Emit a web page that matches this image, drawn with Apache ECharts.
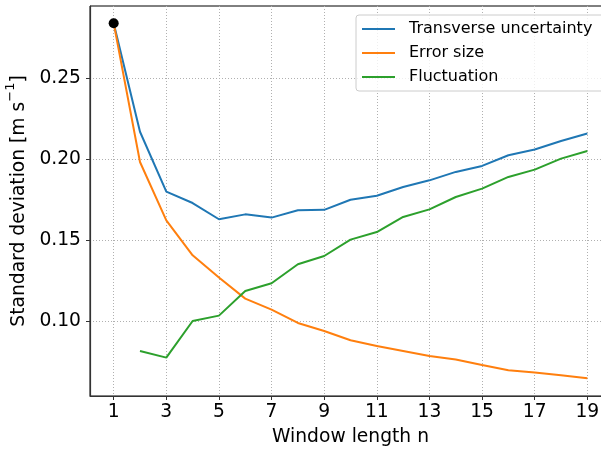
<!DOCTYPE html>
<html><head><meta charset="utf-8">
<script src="https://cdn.jsdelivr.net/npm/echarts@6/dist/echarts.min.js"></script>
<style>html,body{margin:0;padding:0;background:#fff}#c{width:601px;height:449px}</style>
</head><body><div id="c"></div>
<script>
const windowLengths = [1,2,3,4,5,6,7,8,9,10,11,12,13,14,15,16,17,18,19];
const transverse = [0.284,0.217,0.180,0.173,0.163,0.166,0.164,0.1685,0.1688,0.175,0.1775,0.1829,0.187,0.1922,0.1959,0.2025,0.206,0.2113,0.2159];
const errorSize = [0.284,0.1983,0.1623,0.1407,0.127,0.114,0.1072,0.099,0.094,0.0883,0.0848,0.0817,0.0786,0.0764,0.073,0.0698,0.0684,0.0667,0.0648];
const fluctuation = [null,0.0817,0.0776,0.1002,0.1035,0.1187,0.1235,0.1352,0.1403,0.1504,0.1551,0.1644,0.1691,0.1767,0.1819,0.1891,0.1936,0.2004,0.2051];
const highlightPoint = [1, 0.284];
const xTicks = [1,3,5,7,9,11,13,15,17,19];
const yTicks = [0.10,0.15,0.20,0.25];
const seriesNames = ['Transverse uncertainty','Error size','Fluctuation'];
const colors = ['#1f77b4','#ff7f0e','#2ca02c'];

const FONT = 'DejaVu Sans';
const AXFS = 18.7;
const pairs = arr => windowLengths.map((n,i)=>[n, arr[i]]);
const chart = echarts.init(document.getElementById('c'), null, {renderer:'canvas'});
const lineSeries = [transverse, errorSize, fluctuation].map((arr,i)=>({
  name: seriesNames[i], type:'line', data: pairs(arr), symbol:'none', showSymbol:false,
  connectNulls:false, lineStyle:{color:colors[i], width:2}, itemStyle:{color:colors[i]},
  z: 2, animation:false
}));
chart.setOption({
  animation:false,
  backgroundColor:'#fff',
  grid:{left:90, top:6, width:521, height:390, show:true, borderColor:'#000', borderWidth:1,
        outerBoundsMode:'none', containLabel:false},
  legend:{
    orient:'vertical', left:356, top:15,
    data:seriesNames.map(n=>({name:n, icon:'rect'})),
    itemWidth:33, itemHeight:2, itemGap:8,
    padding:[6,12,6,6],
    backgroundColor:'rgba(255,255,255,0.8)', borderColor:'#cccccc', borderWidth:1, borderRadius:3,
    textStyle:{fontFamily:FONT, fontSize:16, color:'#000', padding:[0,0,0,9], lineHeight:16}
  },
  xAxis:{
    type:'value', min:0.1, max:19.9,
    name:'Window length n', nameLocation:'middle', nameGap:32,
    nameTextStyle:{fontFamily:FONT, fontSize:AXFS, color:'#000'},
    axisLine:{show:true, lineStyle:{color:'#333', width:1.2}},
    axisTick:{show:true, inside:false, length:4, customValues:xTicks, lineStyle:{color:'#333', width:1}},
    axisLabel:{customValues:xTicks, margin:7, fontFamily:FONT, fontSize:AXFS, color:'#000'},
    splitLine:{show:true, lineStyle:{color:'#b0b0b0', width:1, type:[1,2]}}
  },
  yAxis:{
    type:'value', min:0.0539, max:0.2946,
    name:'{m|Standard deviation [m s}{sup|\u22121}{m|]}', nameLocation:'middle', nameGap:57,
    nameTextStyle:{fontFamily:FONT, fontSize:AXFS, color:'#000',
      rich:{
        m:{fontFamily:FONT, fontSize:AXFS, color:'#000', lineHeight:24, verticalAlign:'bottom'},
        sup:{fontFamily:FONT, fontSize:13, color:'#000', lineHeight:24, verticalAlign:'top', padding:[0,0,9,0]}
      }},
    axisLine:{show:true, lineStyle:{color:'#333', width:1.2}},
    axisTick:{show:true, inside:false, length:4, customValues:yTicks, lineStyle:{color:'#333', width:1}},
    axisLabel:{customValues:yTicks, margin:9, fontFamily:FONT, fontSize:AXFS, color:'#000',
      formatter: v => v.toFixed(2)},
    splitLine:{show:true, lineStyle:{color:'#b0b0b0', width:1, type:[1,2]}}
  },
  series: lineSeries.concat([{
    type:'scatter', data:[highlightPoint], symbol:'circle', symbolSize:10,
    itemStyle:{color:'#000', opacity:1}, z:5, silent:true, legendHoverLink:false
  }])
});
</script></body></html>
